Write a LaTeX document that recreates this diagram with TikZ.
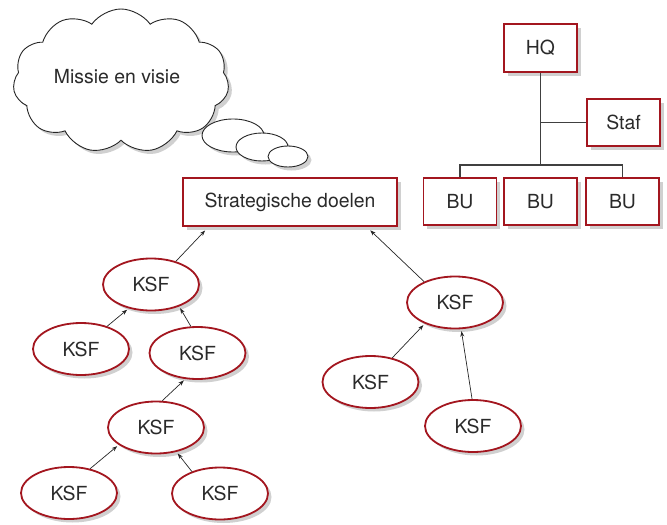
\documentclass[tikz,border=0pt]{standalone}
\usepackage{fontspec}
\setmainfont{TeX Gyre Heros}
\usetikzlibrary{shapes.geometric,shapes.symbols,shadows,arrows.meta}
\definecolor{dred}{HTML}{A3161F}
\definecolor{txt}{HTML}{2A2A2A}
\definecolor{shdc}{HTML}{D0D0D0}
\begin{document}
\begin{tikzpicture}[x=1pt,y=-1pt,
  font=\fontsize{19.4}{21}\selectfont, text=txt,
  shd/.style={drop shadow={shadow xshift=3.5pt,shadow yshift=-3.5pt,fill=shdc,opacity=1}},
  box/.style={draw=dred,line width=1.8pt,fill=white,shd,inner sep=0pt},
  ksf/.style={ellipse,draw=dred,line width=1.8pt,fill=white,shd,minimum width=96pt,minimum height=52pt,inner sep=0pt},
  bubble/.style={ellipse,draw=black!85,line width=0.9pt,fill=white,shd,inner sep=0pt},
  arr/.style={-{Stealth[length=5.5pt,width=4pt]},line width=0.7pt,black!85},
  org/.style={line width=1.4pt,black!75}]
\useasboundingbox (0,0) rectangle (667,525);

% thought cloud
\node[cloud,cloud puffs=11,cloud puff arc=110,aspect=1.6,draw=black!85,line width=0.9pt,fill=white,shd,minimum width=216pt,minimum height=144pt,inner sep=0pt] (cloud) at (121,81) {};
\node (mv) at (117,77) {Missie en visie};
\node[bubble,minimum width=62pt,minimum height=33pt] (b1) at (233,135.5) {};
\node[bubble,minimum width=52pt,minimum height=28pt] (b2) at (262,147) {};
\node[bubble,minimum width=40pt,minimum height=21pt] (b3) at (288,156.5) {};

% strategic goals
\node[box,minimum width=214pt,minimum height=48pt] (sd) at (290,202) {Strategische doelen};

% org chart
\node[box,minimum width=73pt,minimum height=48pt] (hq) at (540.5,48) {HQ};
\node[box,minimum width=73pt,minimum height=47pt] (staf) at (623.5,122.5) {Staf};
\node[box,minimum width=73pt,minimum height=47pt] (bu1) at (460,201.5) {BU};
\node[box,minimum width=73pt,minimum height=47pt] (bu2) at (540.5,201.5) {BU};
\node[box,minimum width=73pt,minimum height=47pt] (bu3) at (622.5,201.5) {BU};
\path (hq.south) ++(0,92) coordinate (j1);
\draw[org] (hq.south) -- (j1);
\draw[org] (bu1.north) |- (j1) -| (bu3.north);
\draw[org] (staf.west) -- (staf.west -| hq.south);

% left KSF tree
\node[ksf] (e1) at (151,284.5) {KSF};
\node[ksf] (e2) at (81,349) {KSF};
\node[ksf] (e3) at (197.5,353) {KSF};
\node[ksf] (e4) at (156,427.5) {KSF};
\node[ksf] (e5) at (69,493) {KSF};
\node[ksf] (e6) at (220,493.5) {KSF};

% right KSF tree
\node[ksf] (r1) at (455,302.5) {KSF};
\node[ksf] (r2) at (370.5,382) {KSF};
\node[ksf] (r3) at (473,426) {KSF};

% arrows
\draw[arr,shorten >=5pt] (e1.43) -- (sd.197);
\draw[arr,shorten >=2pt] (e2.41) -- (e1.227);
\draw[arr,shorten >=2pt] (e3.104) -- (e1.322);
\draw[arr,shorten >=2pt] (e4.77) -- (e3.245);
\draw[arr,shorten >=2pt] (e5.49) -- (e4.205);
\draw[arr,shorten >=2pt] (e6.142) -- (e4.310);
\draw[arr,shorten >=5pt] (r1.146) -- (sd.342);
\draw[arr,shorten >=2pt] (r2.48) -- (r1.215);
\draw[arr,shorten >=2pt] (r3.92) -- (r1.283);
\end{tikzpicture}
\end{document}
